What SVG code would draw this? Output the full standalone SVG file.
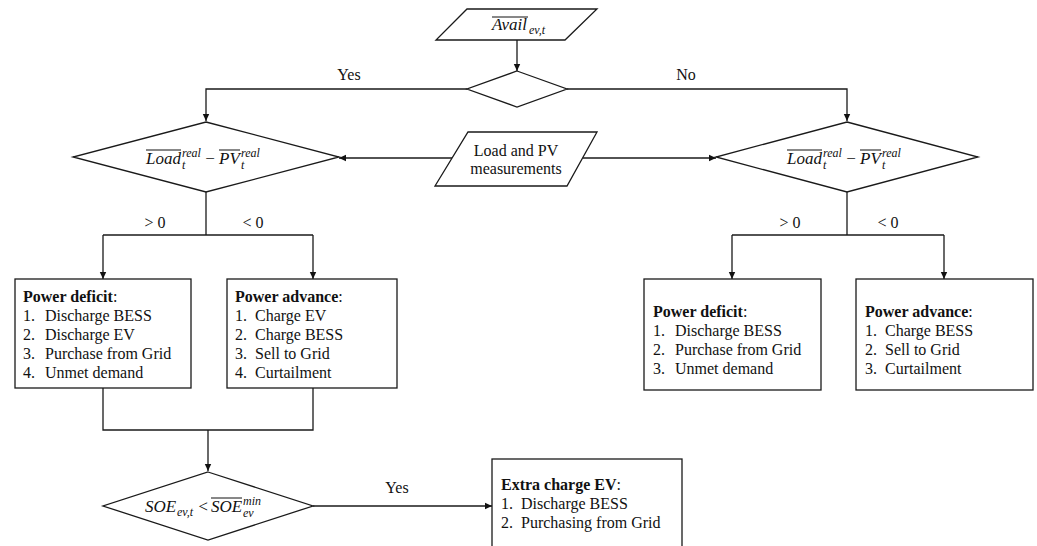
<svg xmlns="http://www.w3.org/2000/svg" width="1037" height="546" viewBox="0 0 1037 546">
<style>
.s{fill:#fff;stroke:#1a1a1a;stroke-width:1.3}
.c{fill:none;stroke:#1a1a1a;stroke-width:1.3}
.t{font-family:"Liberation Serif",serif;font-size:16px;fill:#111}
.b{font-weight:bold}
.m{font-family:"Liberation Serif",serif;font-style:italic;fill:#111}
.ol{stroke:#111;stroke-width:1}
</style>
<defs>
<marker id="ah" markerUnits="userSpaceOnUse" markerWidth="8" markerHeight="8" refX="7" refY="4" orient="auto">
<path d="M0,0.8 L7,4 L0,7.2 z" fill="#111"/>
</marker>
</defs>
<rect width="1037" height="546" fill="#fff"/>
<g id="connectors">
<path class="c" d="M517,40 V71" marker-end="url(#ah)"/>
<path class="c" d="M467,89 H206 V121" marker-end="url(#ah)"/>
<path class="c" d="M567,89 H847 V121" marker-end="url(#ah)"/>
<path class="c" d="M452,158 H339" marker-end="url(#ah)"/>
<path class="c" d="M583,158 H716" marker-end="url(#ah)"/>
<path class="c" d="M206,192 V235"/>
<path class="c" d="M103,235 H313"/>
<path class="c" d="M103,235 V279" marker-end="url(#ah)"/>
<path class="c" d="M313,235 V279" marker-end="url(#ah)"/>
<path class="c" d="M847,192 V235"/>
<path class="c" d="M732,235 H944"/>
<path class="c" d="M732,235 V279" marker-end="url(#ah)"/>
<path class="c" d="M944,235 V279" marker-end="url(#ah)"/>
<path class="c" d="M103,388 V430 H313 V388"/>
<path class="c" d="M208,430 V471" marker-end="url(#ah)"/>
<path class="c" d="M313,506 H492" marker-end="url(#ah)"/>
<text class="t" x="349" y="80" text-anchor="middle">Yes</text>
<text class="t" x="686" y="80" text-anchor="middle">No</text>
<text class="t" x="155" y="228" text-anchor="middle">&gt; 0</text>
<text class="t" x="253" y="228" text-anchor="middle">&lt; 0</text>
<text class="t" x="790" y="228" text-anchor="middle">&gt; 0</text>
<text class="t" x="888" y="228" text-anchor="middle">&lt; 0</text>
<text class="t" x="397" y="493" text-anchor="middle">Yes</text>
</g>
<g id="avail">
<polygon class="s" points="467,9 597,9 565,40 436,40"/>
<text class="m" x="492" y="30" font-size="17">Avail</text>
<text class="m" x="529" y="34" font-size="12">ev,t</text>
<line class="ol" x1="492" y1="17" x2="528" y2="17"/>
</g>
<g id="decision-avail">
<polygon class="s" points="517,71 567,89 517,107 467,89"/>
</g>
<g id="measurements">
<polygon class="s" points="468,132 597,132 567,186 435,186"/>
<text class="t" x="516" y="156" text-anchor="middle">Load and PV</text>
<text class="t" x="516" y="174" text-anchor="middle">measurements</text>
</g>
<g id="decision-left">
<polygon class="s" points="206,122 339,157 206,192 73,157"/>
<text class="m" x="146" y="164" font-size="17">Load</text>
<text class="m" x="182" y="157" font-size="12">real</text>
<text class="m" x="182" y="169" font-size="12">t</text>
<text class="m" x="210" y="164" font-size="17" text-anchor="middle" font-style="normal">−</text>
<text class="m" x="219" y="164" font-size="17">PV</text>
<text class="m" x="241" y="157" font-size="12">real</text>
<text class="m" x="241" y="169" font-size="12">t</text>
<line class="ol" x1="146" y1="150" x2="181" y2="150"/>
<line class="ol" x1="219" y1="150" x2="240" y2="150"/>
</g>
<g id="decision-right">
<polygon class="s" points="847,122 978,157 847,192 716,157"/>
<text class="m" x="787" y="164" font-size="17">Load</text>
<text class="m" x="823" y="157" font-size="12">real</text>
<text class="m" x="823" y="169" font-size="12">t</text>
<text class="m" x="851" y="164" font-size="17" text-anchor="middle" font-style="normal">−</text>
<text class="m" x="860" y="164" font-size="17">PV</text>
<text class="m" x="882" y="157" font-size="12">real</text>
<text class="m" x="882" y="169" font-size="12">t</text>
<line class="ol" x1="787" y1="150" x2="822" y2="150"/>
<line class="ol" x1="860" y1="150" x2="881" y2="150"/>
</g>
<g id="deficit-left">
<rect class="s" x="15" y="279" width="176" height="109"/>
<text class="t" x="23" y="302"><tspan class="b">Power deficit</tspan>:</text>
<text class="t" x="23" y="321">1.</text><text class="t" x="45" y="321">Discharge BESS</text>
<text class="t" x="23" y="340">2.</text><text class="t" x="45" y="340">Discharge EV</text>
<text class="t" x="23" y="359">3.</text><text class="t" x="45" y="359">Purchase from Grid</text>
<text class="t" x="23" y="378">4.</text><text class="t" x="45" y="378">Unmet demand</text>
</g>
<g id="advance-left">
<rect class="s" x="227" y="279" width="170" height="109"/>
<text class="t" x="235" y="302"><tspan class="b">Power advance</tspan>:</text>
<text class="t" x="235" y="321">1.</text><text class="t" x="255" y="321">Charge EV</text>
<text class="t" x="235" y="340">2.</text><text class="t" x="255" y="340">Charge BESS</text>
<text class="t" x="235" y="359">3.</text><text class="t" x="255" y="359">Sell to Grid</text>
<text class="t" x="235" y="378">4.</text><text class="t" x="255" y="378">Curtailment</text>
</g>
<g id="deficit-right">
<rect class="s" x="644" y="279" width="177" height="111"/>
<text class="t" x="653" y="317"><tspan class="b">Power deficit</tspan>:</text>
<text class="t" x="653" y="336">1.</text><text class="t" x="675" y="336">Discharge BESS</text>
<text class="t" x="653" y="355">2.</text><text class="t" x="675" y="355">Purchase from Grid</text>
<text class="t" x="653" y="374">3.</text><text class="t" x="675" y="374">Unmet demand</text>
</g>
<g id="advance-right">
<rect class="s" x="856" y="279" width="177" height="111"/>
<text class="t" x="865" y="317"><tspan class="b">Power advance</tspan>:</text>
<text class="t" x="865" y="336">1.</text><text class="t" x="885" y="336">Charge BESS</text>
<text class="t" x="865" y="355">2.</text><text class="t" x="885" y="355">Sell to Grid</text>
<text class="t" x="865" y="374">3.</text><text class="t" x="885" y="374">Curtailment</text>
</g>
<g id="decision-soe">
<polygon class="s" points="208,472 313,506 208,540 103,506"/>
<text class="m" x="145" y="512" font-size="17">SOE</text>
<text class="m" x="177" y="516" font-size="12">ev,t</text>
<text class="m" x="203" y="512" font-size="17" text-anchor="middle" font-style="normal">&lt;</text>
<text class="m" x="211" y="512" font-size="17">SOE</text>
<text class="m" x="243" y="505" font-size="12">min</text>
<text class="m" x="243" y="517" font-size="12">ev</text>
<line class="ol" x1="211" y1="498" x2="242" y2="498"/>
</g>
<g id="extra-charge">
<rect class="s" x="492" y="459" width="190" height="110"/>
<text class="t" x="501" y="490"><tspan class="b">Extra charge EV</tspan>:</text>
<text class="t" x="501" y="509">1.</text><text class="t" x="521" y="509">Discharge BESS</text>
<text class="t" x="501" y="528">2.</text><text class="t" x="521" y="528">Purchasing from Grid</text>
</g>
</svg>
